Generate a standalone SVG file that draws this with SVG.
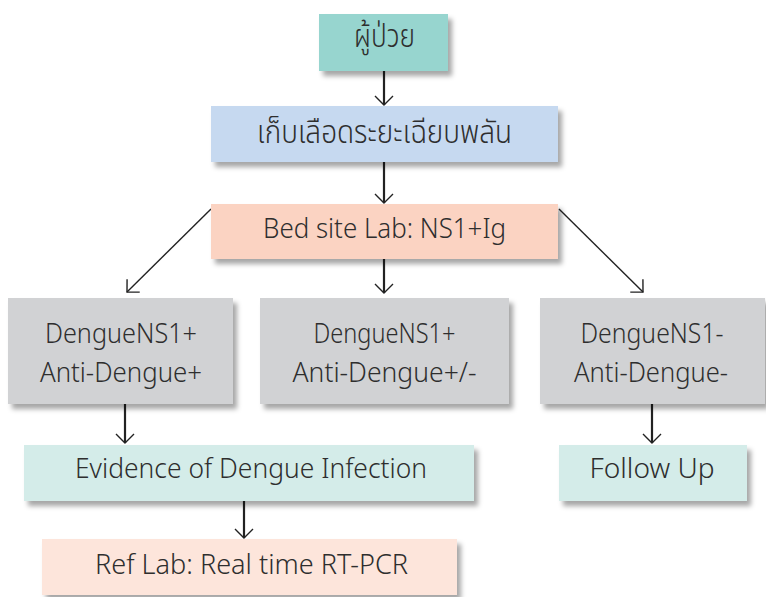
<svg xmlns="http://www.w3.org/2000/svg" width="766" height="597" viewBox="0 0 766 597">
<style>
  .box { filter: url(#sh); }
  .t { font-family: "Noto Sans", "Noto Sans Thai", "Noto Sans Thai UI", "Open Sans", "DejaVu Sans", sans-serif; font-size: 27px; font-weight: 300; fill: #2e2e2e; text-anchor: middle; }
  .th { font-size: 32px; }
  .c { stroke: #222222; fill: none; }
  .v { stroke-width: 2.2; }
  .d { stroke-width: 1.4; }
</style>
<defs>
  <filter id="sh" x="-10%" y="-20%" width="125%" height="150%">
    <feDropShadow dx="4" dy="5" stdDeviation="2.5" flood-color="#000000" flood-opacity="0.35"/>
  </filter>
  <marker id="ah" viewBox="-11 -11 13 22" markerWidth="13" markerHeight="22" refX="0" refY="0" orient="auto" markerUnits="userSpaceOnUse">
    <path d="M-9,-9 L0,0 L-9,9" fill="none" stroke="#222222" stroke-width="1.4"/>
  </marker>
</defs>
<rect width="766" height="597" fill="#ffffff"/>

<g id="connectors">
  <line class="c v" x1="384" y1="71" x2="384" y2="105" marker-end="url(#ah)"/>
  <line class="c v" x1="384" y1="162" x2="384" y2="203" marker-end="url(#ah)"/>
  <line class="c v" x1="384" y1="259" x2="384" y2="293" marker-end="url(#ah)"/>
  <line class="c d" x1="211" y1="209" x2="127" y2="292" marker-end="url(#ah)"/>
  <line class="c d" x1="559" y1="209" x2="643" y2="292" marker-end="url(#ah)"/>
  <line class="c v" x1="125" y1="404" x2="125" y2="443" marker-end="url(#ah)"/>
  <line class="c v" x1="652" y1="404" x2="652" y2="443" marker-end="url(#ah)"/>
  <line class="c v" x1="244" y1="501" x2="244" y2="538" marker-end="url(#ah)"/>
</g>

<g id="patient">
  <rect class="box" x="319" y="14" width="129" height="57" fill="#97d5cf"/>
  <text class="t th" x="384.5" y="47" textLength="61" lengthAdjust="spacingAndGlyphs">ผู้ป่วย</text>
</g>
<g id="collect">
  <rect class="box" x="211" y="106" width="347" height="56" fill="#c6d9f0"/>
  <text class="t th" x="384.5" y="143" textLength="255" lengthAdjust="spacingAndGlyphs">เก็บเลือดระยะเฉียบพลัน</text>
</g>
<g id="bedsite">
  <rect class="box" x="211" y="204" width="347" height="55" fill="#fbd3c2"/>
  <text class="t" x="384.5" y="238" textLength="243" lengthAdjust="spacingAndGlyphs">Bed site Lab: NS1+Ig</text>
</g>
<g id="resultA">
  <rect class="box" x="8" y="298" width="225" height="106" fill="#d1d2d4"/>
  <text class="t" x="121" y="343" textLength="152" lengthAdjust="spacingAndGlyphs">DengueNS1+</text>
  <text class="t" x="121" y="382" textLength="162" lengthAdjust="spacingAndGlyphs">Anti-Dengue+</text>
</g>
<g id="resultB">
  <rect class="box" x="260" y="298" width="249" height="106" fill="#d1d2d4"/>
  <text class="t" x="384.5" y="343" textLength="142" lengthAdjust="spacingAndGlyphs">DengueNS1+</text>
  <text class="t" x="384.5" y="382" textLength="184" lengthAdjust="spacingAndGlyphs">Anti-Dengue+/-</text>
</g>
<g id="resultC">
  <rect class="box" x="540" y="298" width="225" height="106" fill="#d1d2d4"/>
  <text class="t" x="652" y="343" textLength="143" lengthAdjust="spacingAndGlyphs">DengueNS1-</text>
  <text class="t" x="651" y="382" textLength="154" lengthAdjust="spacingAndGlyphs">Anti-Dengue-</text>
</g>
<g id="evidence">
  <rect class="box" x="24" y="445" width="450" height="56" fill="#d4ece9"/>
  <text class="t" x="251" y="478" textLength="352" lengthAdjust="spacingAndGlyphs">Evidence of Dengue Infection</text>
</g>
<g id="followup">
  <rect class="box" x="559" y="445" width="188" height="56" fill="#d4ece9"/>
  <text class="t" x="652" y="478" textLength="125" lengthAdjust="spacingAndGlyphs">Follow Up</text>
</g>
<g id="reflab">
  <rect class="box" x="42" y="539" width="415" height="56" fill="#fde5db"/>
  <text class="t" x="251.5" y="574" textLength="313" lengthAdjust="spacingAndGlyphs">Ref Lab: Real time RT-PCR</text>
</g>
</svg>
